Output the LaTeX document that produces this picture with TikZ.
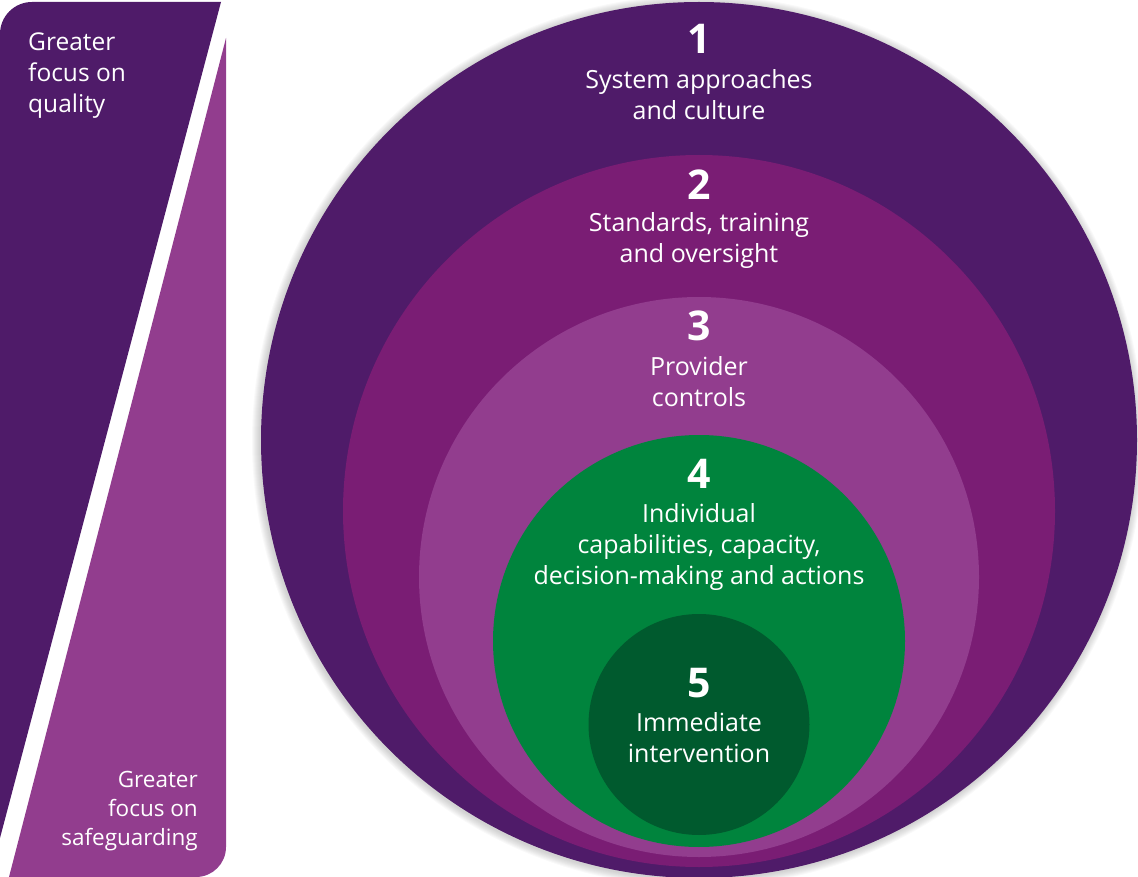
\documentclass[tikz,border=0pt]{standalone}
\usepackage{fontspec}
\setmainfont{Open Sans}
\definecolor{dpurple}{HTML}{4F1B69}
\definecolor{mpurple}{HTML}{7A1D74}
\definecolor{lpurple}{HTML}{923D8E}
\definecolor{green1}{HTML}{00843D}
\definecolor{green2}{HTML}{005A2E}
\begin{document}
\begin{tikzpicture}[x=1pt,y=-1pt,
  lbl/.style={text=white, font=\fontsize{25}{31}\selectfont, align=center, inner sep=0pt},
  num/.style={text=white, font=\fontsize{41}{41}\selectfont\bfseries, inner sep=0pt},
  side/.style={text=white, font=\fontsize{24.5}{31}\selectfont, inner sep=0pt},
  sideb/.style={text=white, font=\fontsize{22.5}{29}\selectfont, inner sep=0pt}]
\useasboundingbox (0,0) rectangle (1138,877);
% soft shadow of the outer circle
\foreach \k in {1,...,8}{
  \fill[black, opacity=0.025] (698,441) circle ({438+\k});
}
% rings
\fill[dpurple] (699,440) circle (438);
\fill[mpurple] (699,511) circle (356);
\fill[lpurple] (699,577) circle (280);
\fill[green1] (699,641) circle (206);
\fill[green2] (699,724.5) circle (110.5);
% left shapes
\fill[dpurple] (0,838) -- (0,34) .. controls (0,16.3) and (14.3,2) .. (32,2) -- (221,2) -- cycle;
\fill[lpurple] (226,38) -- (9,877) -- (196,877) .. controls (212.6,877) and (226,863.6) .. (226,847) -- cycle;
% side texts
\node[side, align=left, anchor=west] (quality) at (28,76) {Greater\\focus on\\quality};
\node[sideb, align=right, anchor=east] (safe) at (198,811) {Greater\\focus on\\safeguarding};
% ring labels
\node[num] (n1) at (699,39) {1};
\node[lbl] (t1) at (699,95) {System approaches\\and culture};
\node[num] (n2) at (699,185) {2};
\node[lbl] (t2) at (699,241) {Standards, training\\and oversight};
\node[num] (n3) at (699,326) {3};
\node[lbl] (t3) at (699,382) {Provider\\controls};
\node[num] (n4) at (699,474) {4};
\node[lbl] (t4) at (699,547) {Individual\\capabilities, capacity,\\decision-making and actions};
\node[num] (n5) at (699,683) {5};
\node[lbl] (t5) at (699,738) {Immediate\\intervention};
\end{tikzpicture}
\end{document}
